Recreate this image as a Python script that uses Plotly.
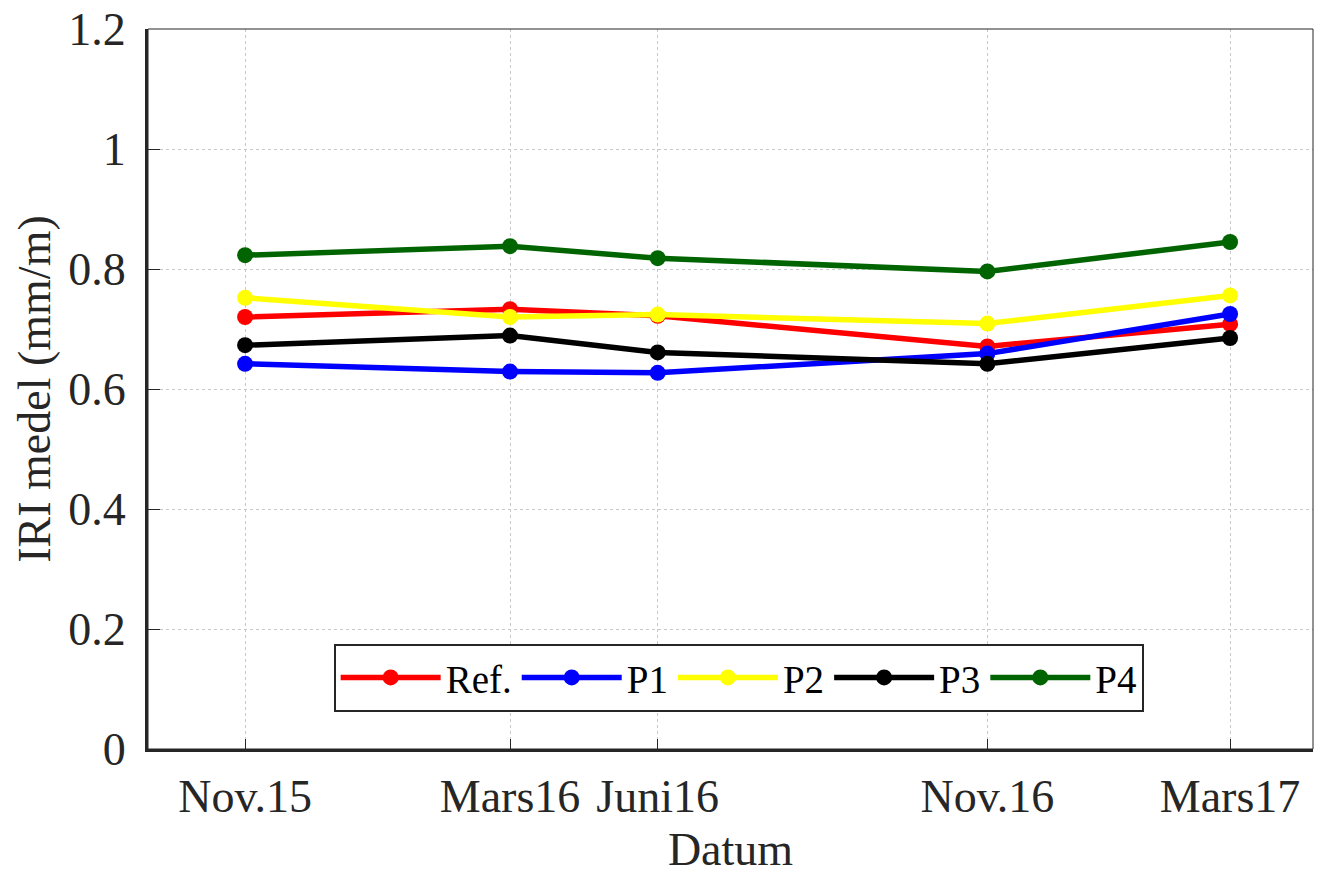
import plotly.graph_objects as go

# Measurement dates and their axis labels
dates = ["2015-11-10", "2016-03-20", "2016-06-01", "2016-11-11", "2017-03-11"]
tick_labels = ["Nov.15", "Mars16", "Juni16", "Nov.16", "Mars17"]

# Mean IRI per section (mm/m)
ref_vals = [0.720, 0.733, 0.722, 0.671, 0.708]
p1_vals = [0.642, 0.629, 0.627, 0.659, 0.725]
p2_vals = [0.752, 0.720, 0.724, 0.709, 0.756]
p3_vals = [0.673, 0.689, 0.661, 0.642, 0.685]
p4_vals = [0.823, 0.838, 0.818, 0.796, 0.845]

series_names = ["Ref.", "P1", "P2", "P3", "P4"]
series_vals = [ref_vals, p1_vals, p2_vals, p3_vals, p4_vals]
series_colors = ["#ff0000", "#0000ff", "#ffff00", "#000000", "#006400"]

FONT = "Liberation Serif, Times New Roman, serif"

fig = go.Figure()
for name, vals, color in zip(series_names, series_vals, series_colors):
    fig.add_trace(go.Scatter(
        x=dates, y=vals, name=name, mode="lines+markers",
        line=dict(color=color, width=5.5),
        marker=dict(color=color, size=16),
    ))

# Thin box around the axes
fig.add_shape(type="rect", xref="paper", yref="paper", x0=0, y0=0, x1=1, y1=1,
              line=dict(color="#262626", width=1), layer="above")

fig.update_layout(
    width=1317, height=875,
    margin=dict(l=148, r=4, t=29, b=126),
    paper_bgcolor="white", plot_bgcolor="white",
    font=dict(family=FONT, size=46, color="#262626"),
    showlegend=True,
    legend=dict(
        orientation="h", x=0.507, y=0.052, xanchor="center", yanchor="bottom",
        bgcolor="white", bordercolor="#262626", borderwidth=2,
        font=dict(family=FONT, size=39, color="#000000"),
        itemwidth=100, tracegroupgap=0,
    ),
    xaxis=dict(
        type="date",
        range=["2015-09-23", "2017-04-21"],
        tickvals=dates, ticktext=tick_labels,
        showgrid=True, gridcolor="#c8c8c8", gridwidth=1, griddash="dot",
        showline=True, linecolor="#262626", linewidth=3,
        ticks="inside", ticklen=10, tickwidth=1, tickcolor="#262626",
        tickfont=dict(family=FONT, size=46, color="#262626"),
        ticklabelstandoff=5,
        title=dict(text="Datum", font=dict(family=FONT, size=46, color="#262626"), standoff=17),
        zeroline=False,
    ),
    yaxis=dict(
        range=[0, 1.2], tickvals=[0, 0.2, 0.4, 0.6, 0.8, 1.0, 1.2],
        ticktext=["0", "0.2", "0.4", "0.6", "0.8", "1", "1.2"],
        showgrid=True, gridcolor="#c8c8c8", gridwidth=1, griddash="dot",
        showline=True, linecolor="#262626", linewidth=3,
        ticks="inside", ticklen=12, tickwidth=1, tickcolor="#262626",
        tickfont=dict(family=FONT, size=46, color="#262626"),
        ticklabelstandoff=10,
        title=dict(text="IRI medel (mm/m)", font=dict(family=FONT, size=46, color="#262626"), standoff=4),
        zeroline=False,
    ),
)

fig.write_html("out.html")
